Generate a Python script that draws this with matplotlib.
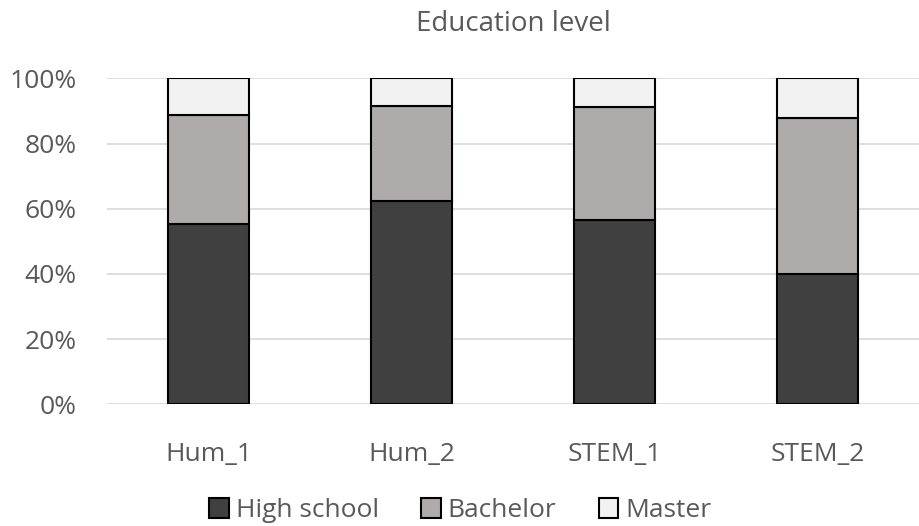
import numpy as np
import matplotlib.pyplot as plt
from matplotlib.ticker import PercentFormatter

groups = ['Hum_1', 'Hum_2', 'STEM_1', 'STEM_2']
high_school = [55.4, 62.3, 56.4, 39.9]
bachelor = [33.4, 29.3, 34.8, 47.9]
master = [11.2, 8.4, 8.8, 12.2]

series = [('High school', high_school, '#404040'),
          ('Bachelor', bachelor, '#AFABAB'),
          ('Master', master, '#F2F2F2')]

plt.rcParams['font.family'] = ['Open Sans', 'DejaVu Sans']
text_col = '#595959'

fig = plt.figure(figsize=(9.2, 5.26), dpi=100)
ax = fig.add_axes([0.1163, 0.2314, 0.8827, 0.6197])

x = np.arange(len(groups))
bottom = np.zeros(len(groups))
for name, vals, col in series:
    ax.bar(x, vals, 0.4, bottom=bottom, color=col, edgecolor='black',
           linewidth=1.5, label=name, zorder=3)
    bottom += np.array(vals)

ax.set_xlim(-0.5, 3.5)
ax.set_ylim(0, 100)
ax.set_yticks(np.arange(0, 101, 20))
ax.yaxis.set_major_formatter(PercentFormatter(decimals=0))
ax.set_xticks(x)
ax.set_xticklabels(groups)
ax.grid(axis='y', color='#D9D9D9', linewidth=1.2, zorder=0)
for s in ['top', 'right', 'left', 'bottom']:
    ax.spines[s].set_visible(False)
ax.tick_params(length=0, colors=text_col, labelsize=19)
ax.tick_params(axis='x', pad=27)
ax.tick_params(axis='y', pad=22)

ax.set_title('Education level', color=text_col, fontsize=20, pad=34)

leg = ax.legend(loc='upper center', bbox_to_anchor=(0.435, -0.215), ncol=3,
                frameon=False, fontsize=19, handlelength=0.75,
                handleheight=0.75, handletextpad=0.25, columnspacing=1.6)
for t in leg.get_texts():
    t.set_color(text_col)

fig.savefig('out.png', dpi=100)
